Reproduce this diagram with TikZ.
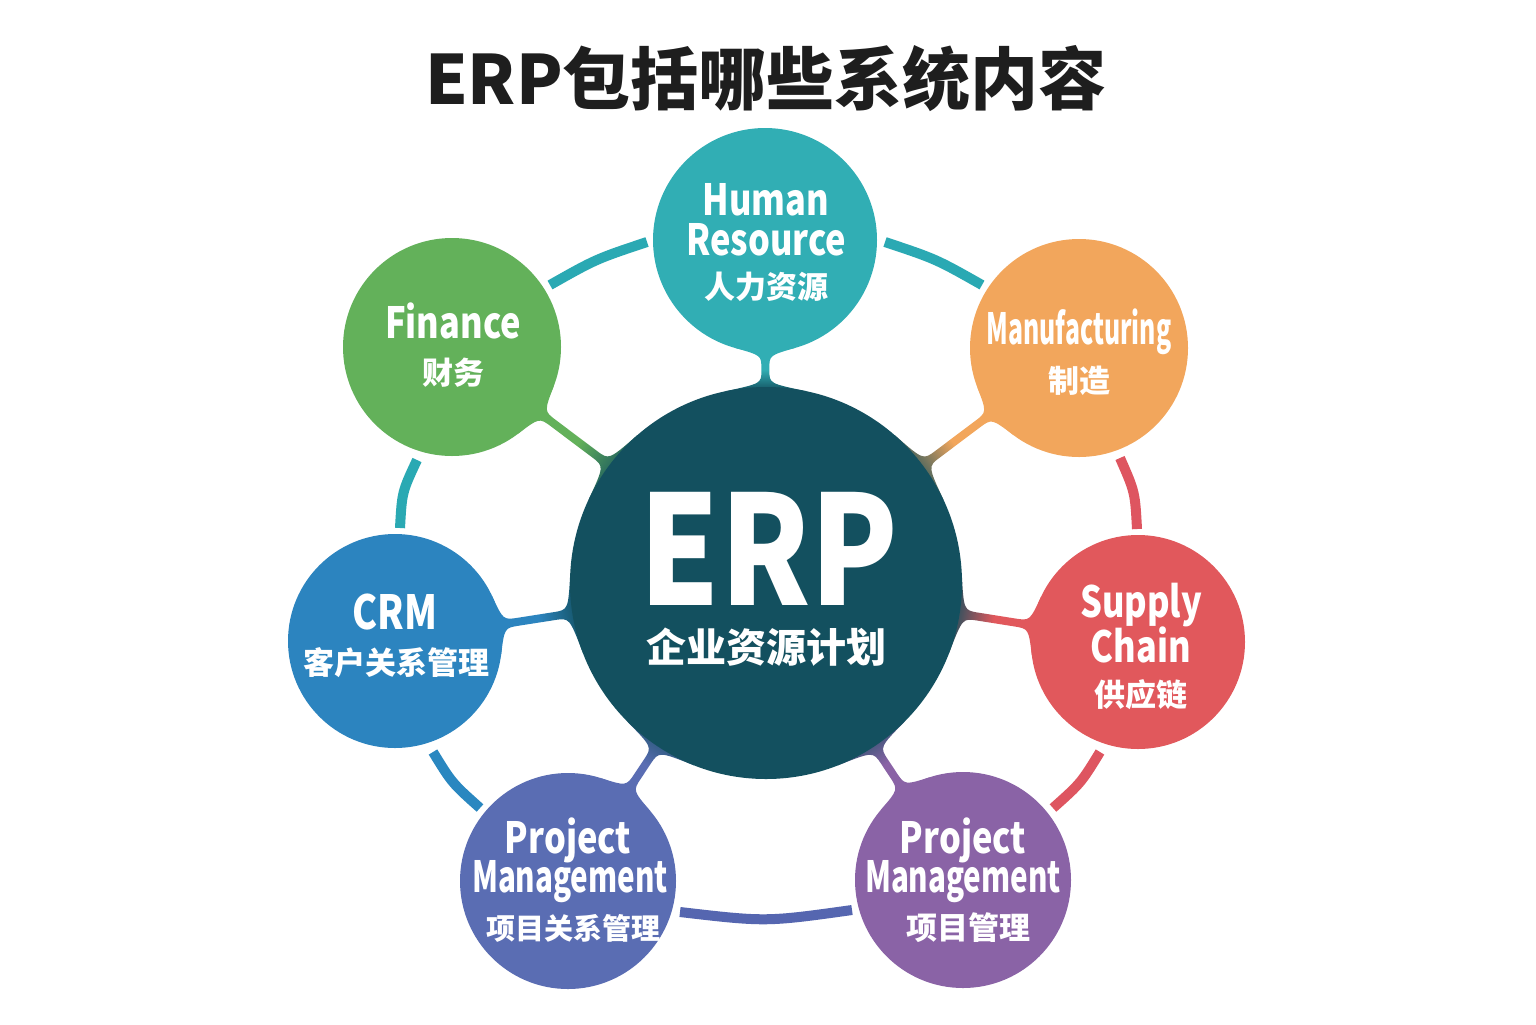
\documentclass[tikz,border=0pt]{standalone}
\usepackage{fontspec}
\setmainfont{Noto Sans CJK SC}
\newfontfamily\enf[FakeStretch=0.8]{Noto Sans CJK SC}
\usetikzlibrary{calc}
\definecolor{hrc}{HTML}{31AEB4}
\definecolor{finc}{HTML}{63B15A}
\definecolor{manc}{HTML}{F2A65C}
\definecolor{crmc}{HTML}{2C84BF}
\definecolor{scc}{HTML}{E1585C}
\definecolor{pmlc}{HTML}{5A6DB3}
\definecolor{pmrc}{HTML}{8A63A6}
\definecolor{ctr}{HTML}{13505F}
\definecolor{ttl}{HTML}{1E1E1E}
\definecolor{ringT}{HTML}{2AA9B3}
\definecolor{ringR}{HTML}{DE5560}
\definecolor{ringB}{HTML}{2A87C0}
\definecolor{ringI}{HTML}{5566B0}
\def\phiO{16}\def\psiI{12}\def\hw{4}
\newcommand\nkc[3]{%
  \pgfmathsetmacro\nkX{\nkOx+(#2)*\nkux-(#3)*\nkuy}%
  \pgfmathsetmacro\nkY{\nkOy+(#2)*\nkuy+(#3)*\nkux}%
  \coordinate (#1) at (\nkX,\nkY);}
\newcommand\neck[5]{%
  \def\nkOx{#1}\def\nkOy{#2}%
  \pgfmathsetmacro\nkDx{766-#1}%
  \pgfmathsetmacro\nkDy{583-#2}%
  \pgfmathsetmacro\nkD{veclen(\nkDx,\nkDy)}%
  \pgfmathsetmacro\nkux{\nkDx/\nkD}%
  \pgfmathsetmacro\nkuy{\nkDy/\nkD}%
  \pgfmathsetmacro\nkTo{(#3*sin(\phiO)-\hw)/cos(\phiO)}%
  \pgfmathsetmacro\nkTi{(196*sin(\psiI)-\hw)/cos(\psiI)}%
  \pgfmathsetmacro\nkKo{#3*cos(\phiO)+\nkTo*sin(\phiO)}%
  \pgfmathsetmacro\nkKi{196*cos(\psiI)+\nkTi*sin(\psiI)}%
  \pgfmathsetmacro\nkd{min(15,(\nkD-\nkKo-\nkKi)/2-1)}%
  \pgfmathsetmacro\nksa{atan2(\nkDy,-\nkDx)-90}%
  \nkc{#5Ap}{#3*cos(\phiO)}{#3*sin(\phiO)}%
  \nkc{#5Am}{#3*cos(\phiO)}{-#3*sin(\phiO)}%
  \nkc{#5Kp}{\nkKo}{\hw}\nkc{#5Km}{\nkKo}{-\hw}%
  \nkc{#5Sp}{\nkKo+\nkd}{\hw}\nkc{#5Sm}{\nkKo+\nkd}{-\hw}%
  \nkc{#5Tp}{\nkD-\nkKi-\nkd}{\hw}\nkc{#5Tm}{\nkD-\nkKi-\nkd}{-\hw}%
  \nkc{#5Lp}{\nkD-\nkKi}{\hw}\nkc{#5Lm}{\nkD-\nkKi}{-\hw}%
  \nkc{#5Bp}{\nkD-196*cos(\psiI)}{196*sin(\psiI)}%
  \nkc{#5Bm}{\nkD-196*cos(\psiI)}{-196*sin(\psiI)}%
  \path[top color=#4, bottom color=ctr, middle color=#4, shading angle=\nksa]
    (#5Ap) .. controls (#5Kp) and (#5Kp) .. (#5Sp) -- (#5Tp)
    .. controls (#5Lp) and (#5Lp) .. (#5Bp) -- (#5Bm)
    .. controls (#5Lm) and (#5Lm) .. (#5Tm) -- (#5Sm)
    .. controls (#5Km) and (#5Km) .. (#5Am) -- cycle;}
\tikzset{
  circ/.style={circle, inner sep=0pt, draw=none},
  ent/.style={text=white, font=\enf\bfseries\fontsize{21.5}{21.5}\selectfont, anchor=base, inner sep=0pt},
  cnt/.style={text=white, font=\bfseries\fontsize{15.5}{15.5}\selectfont, anchor=base, inner sep=0pt},
  ring/.style={line width=5pt, draw=#1, line cap=butt},
}
\begin{document}
\begin{tikzpicture}[x=0.5pt, y=-0.5pt]
\useasboundingbox (0,0) rectangle (1536,1024);
\fill[white] (0,0) rectangle (1536,1024);
% title
\node[anchor=base, inner sep=0pt, text=ttl, font=\bfseries\fontsize{34}{34}\selectfont] (title) at (766,104) {ERP包括哪些系统内容};
% necks
\neck{765}{240}{112}{hrc}{hr}
\neck{452}{347}{109}{finc}{fin}
\neck{1079}{348}{109}{manc}{man}
\neck{395}{641}{107}{crmc}{crm}
\neck{1138}{642}{107}{scc}{sc}
\neck{568}{881}{108}{pmlc}{pml}
\neck{963}{880}{108}{pmrc}{pmr}
% circles
\node[circ, fill=ctr, minimum size=196pt] (erp) at (766,583) {};
\node[circ, fill=hrc, minimum size=112pt] (hr) at (765,240) {};
\node[circ, fill=finc, minimum size=109pt] (fin) at (452,347) {};
\node[circ, fill=manc, minimum size=109pt] (man) at (1079,348) {};
\node[circ, fill=crmc, minimum size=107pt] (crm) at (395,641) {};
\node[circ, fill=scc, minimum size=107pt] (sc) at (1138,642) {};
\node[circ, fill=pmlc, minimum size=108pt] (pml) at (568,881) {};
\node[circ, fill=pmrc, minimum size=108pt] (pmr) at (963,880) {};
% ring arcs
\coordinate (r1a) at (647,242); \coordinate (r1c) at (596,259); \coordinate (r1b) at (550,285);
\coordinate (r2a) at (885,242); \coordinate (r2c) at (936,259); \coordinate (r2b) at (982,285);
\coordinate (r3a) at (417,460); \coordinate (r3c) at (402,492); \coordinate (r3b) at (400,528);
\coordinate (r4a) at (1120,458); \coordinate (r4c) at (1135,492); \coordinate (r4b) at (1137,529);
\coordinate (r5a) at (433,752); \coordinate (r5c) at (452,783); \coordinate (r5b) at (480,808);
\coordinate (r6a) at (1100,752); \coordinate (r6c) at (1081,783); \coordinate (r6b) at (1053,808);
\coordinate (r7a) at (680,912); \coordinate (r7c) at (766,922); \coordinate (r7b) at (852,910);
\draw[ring=ringT] (r1a) .. controls (r1c) .. (r1b);
\draw[ring=ringT] (r2a) .. controls (r2c) .. (r2b);
\draw[ring=ringT] (r3a) .. controls (r3c) .. (r3b);
\draw[ring=ringR] (r4a) .. controls (r4c) .. (r4b);
\draw[ring=ringB] (r5a) .. controls (r5c) .. (r5b);
\draw[ring=ringR] (r6a) .. controls (r6c) .. (r6b);
\draw[ring=ringI] (r7a) .. controls (r7c) .. (r7b);
% centre text
\node[anchor=base, inner sep=0pt, text=white, font=\bfseries\fontsize{76}{76}\selectfont] (erpt1) at (769,605) {\scalebox{0.84}[1]{ERP}};
\node[anchor=base, inner sep=0pt, text=white, font=\bfseries\fontsize{20}{20}\selectfont] (erpt2) at (766,662) {企业资源计划};
% labels
\node[ent] (hrt1) at (766,215) {Human};
\node[ent] (hrt2) at (766,255) {Resource};
\node[cnt] (hrt3) at (766,298) {人力资源};
\node[ent] (fint1) at (453,338) {Finance};
\node[cnt] (fint2) at (453,384) {财务};
\node[ent] (mant1) at (1079,344) {\scalebox{0.72}[1]{Manufacturing}};
\node[cnt] (mant2) at (1079,392) {制造};
\node[ent, font=\enf\bfseries\fontsize{23.5}{23.5}\selectfont] (crmt1) at (395,629) {CRM};
\node[cnt] (crmt2) at (396,674) {客户关系管理};
\node[ent] (sct1) at (1141,617) {Supply};
\node[ent] (sct2) at (1141,662) {Chain};
\node[cnt] (sct3) at (1141,706) {供应链};
\node[ent] (pmlt1) at (568,853) {Project};
\node[ent] (pmlt2) at (570,892) {\scalebox{0.86}[1]{Management}};
\node[cnt, font=\bfseries\fontsize{14.5}{14.5}\selectfont] (pmlt3) at (573,939) {项目关系管理};
\node[ent] (pmrt1) at (963,853) {Project};
\node[ent] (pmrt2) at (963,892) {\scalebox{0.86}[1]{Management}};
\node[cnt] (pmrt3) at (968,939) {项目管理};
\end{tikzpicture}
\end{document}
